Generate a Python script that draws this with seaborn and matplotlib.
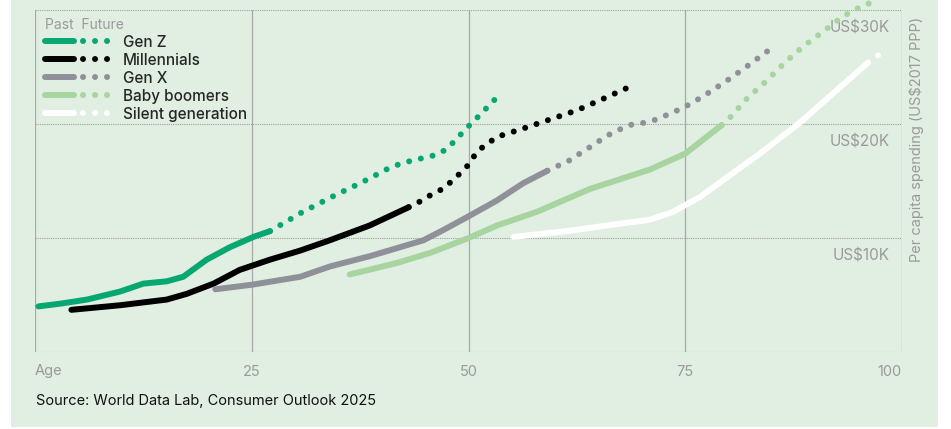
import matplotlib
matplotlib.use("Agg")
import matplotlib.pyplot as plt
import seaborn as sns
from matplotlib.lines import Line2D
from matplotlib.legend_handler import HandlerTuple
from matplotlib.patches import Rectangle
from matplotlib.transforms import offset_copy

# ---------------- data (age, per-capita spending in US$ thousands) ----------------
genz_past_age = [0.4, 3.0, 6.0, 9.8, 12.5, 15.2, 17.1, 19.8, 22.5, 25.2, 27.1]
genz_past_val = [4.0, 4.25, 4.6, 5.3, 6.0, 6.2, 6.6, 8.1, 9.2, 10.1, 10.6]
genz_fut_age = [27.1, 30.9, 35.0, 36.4, 38.0, 39.5, 41.0, 42.5, 44.1, 45.8, 47.3, 48.4,
                49.6, 50.8, 53.1]
genz_fut_val = [10.6, 12.3, 13.9, 14.4, 15.0, 15.6, 16.2, 16.6, 16.9, 17.2, 17.7, 18.5,
                19.5, 20.4, 22.2]

mill_past_age = [4.2, 9.8, 15.2, 17.5, 20.6, 23.6, 27.1, 30.6, 34.0, 38.6, 43.1]
mill_past_val = [3.7, 4.1, 4.6, 5.1, 6.0, 7.2, 8.1, 8.9, 9.8, 11.1, 12.7]
mill_fut_age = [43.1, 44.4, 45.7, 47.0, 48.1, 49.2, 50.1, 50.9, 52.0, 53.4, 56.3, 59.4,
                62.5, 65.5, 68.4]
mill_fut_val = [12.7, 13.2, 13.8, 14.3, 15.0, 15.8, 16.5, 17.5, 18.2, 18.9, 19.6, 20.4,
                21.2, 22.2, 23.2]

genx_past_age = [20.8, 25.0, 30.6, 34.0, 38.6, 44.8, 47.1, 50.0, 53.3, 56.3, 59.1]
genx_past_val = [5.5, 5.9, 6.6, 7.5, 8.4, 9.8, 10.7, 11.9, 13.3, 14.8, 15.9]
genx_fut_age = [59.1, 61.9, 63.2, 64.5, 65.8, 67.1, 68.5, 70.2, 71.7, 73.2, 74.7, 75.9,
                77.2, 79.8, 82.2, 84.5]
genx_fut_val = [15.9, 16.9, 17.6, 18.2, 18.9, 19.4, 19.9, 20.1, 20.4, 20.9, 21.4, 21.9,
                22.5, 23.8, 25.1, 26.4]

boom_past_age = [36.3, 41.7, 45.6, 50.0, 53.3, 57.9, 64.0, 70.9, 75.0, 79.2]
boom_past_val = [6.8, 7.8, 8.7, 10.0, 11.1, 12.3, 14.3, 16.0, 17.4, 19.9]
boom_fut_age = [79.2, 80.2, 82.2, 84.4, 86.5, 88.6, 90.9, 93.1, 95.5, 97.1]
boom_fut_val = [19.9, 20.6, 22.3, 23.8, 25.4, 26.8, 28.1, 29.4, 30.4, 30.8]

silent_past_age = [55.2, 61.3, 67.9, 70.9, 73.6, 76.7, 80.5, 83.6, 88.2, 96.1]
silent_past_val = [10.1, 10.6, 11.3, 11.6, 12.3, 13.6, 15.7, 17.4, 20.1, 25.4]
silent_fut_age = [96.1, 97.4]
silent_fut_val = [25.4, 26.1]

generations = ["Gen Z", "Millennials", "Gen X", "Baby boomers", "Silent generation"]
colors = ["#07a772", "#000000", "#8f9098", "#a8d4a0", "#ffffff"]

x_ticks = [0, 25, 50, 75, 100]
x_tick_labels = ["Age", "25", "50", "75", "100"]
y_ticks = [10, 20, 30]
y_tick_labels = ["US$10K", "US$20K", "US$30K"]

series = [
    (genz_past_age, genz_past_val, genz_fut_age, genz_fut_val),
    (mill_past_age, mill_past_val, mill_fut_age, mill_fut_val),
    (genx_past_age, genx_past_val, genx_fut_age, genx_fut_val),
    (boom_past_age, boom_past_val, boom_fut_age, boom_fut_val),
    (silent_past_age, silent_past_val, silent_fut_age, silent_fut_val),
]

# ---------------- style ----------------
sns.set_theme(style="white")
plt.rcParams["font.family"] = ["Inter", "DejaVu Sans"]

BG = "#e1eee2"
GRID = "#9d9d9d"
TXT_GRAY = "#9a9a9a"
LW = 4.3
DOTS = (0, (0.01, 2.0))

W, H = 951, 429
fig = plt.figure(figsize=(W / 100, H / 100), dpi=100)
fig.patch.set_facecolor("white")
bg_rect = Rectangle((11 / W, 2 / H), (938 - 11) / W, 1 - 2 / H,
                    transform=fig.transFigure, facecolor=BG,
                    edgecolor="none", zorder=-10)
fig.add_artist(bg_rect)

ax = fig.add_axes([35 / W, 1 - 352 / H, (902 - 35) / W, (352 - 10) / H])
ax.set_zorder(1)
ax.set_facecolor(BG)
ax.set_xlim(0, 100)
ax.set_ylim(0, 30)

for (pa, pv, fa, fv), c in zip(series, colors):
    sns.lineplot(x=pa, y=pv, ax=ax, color=c, linewidth=LW,
                 solid_capstyle="round", solid_joinstyle="round",
                 estimator=None, legend=False, zorder=3)
    sns.lineplot(x=fa, y=fv, ax=ax, color=c, linewidth=LW, linestyle=DOTS,
                 dash_capstyle="round", estimator=None, legend=False,
                 zorder=3, clip_on=False)

# grid / frame
for s in ax.spines.values():
    s.set_visible(False)
ax.set_xticks(x_ticks)
ax.set_yticks([0] + y_ticks)
ax.grid(axis="x", color="#a8a8a8", linewidth=0.9, linestyle="-")
ax.grid(axis="y", color=GRID, linewidth=0.8, linestyle=(0, (1, 1)))
ax.set_axisbelow(True)
ax.tick_params(axis="both", length=0)
ax.set_yticklabels([])
ax.set_xticklabels(x_tick_labels, color=TXT_GRAY, fontsize=10.5)
ax.tick_params(axis="x", pad=9)
xl = ax.get_xticklabels()
xl[0].set_ha("left")
xl[-1].set_ha("right")
ax.set_xlabel("")
ax.set_ylabel("")

# value labels inside right edge, below each gridline
ytrans = offset_copy(ax.get_yaxis_transform(), fig=fig, x=0, y=-18, units="dots")
for v, lab in zip(y_ticks, y_tick_labels):
    ax.text(0.986, v, lab, transform=ytrans, ha="right", va="center",
            color=TXT_GRAY, fontsize=11, zorder=1)

fig.text(917 / W, 1 - 139 / H, "Per capita spending (US$2017 PPP)", rotation=90,
         ha="center", va="center", color=TXT_GRAY, fontsize=10.5)

fig.text(36 / W, 1 - 401 / H, "Source: World Data Lab, Consumer Outlook 2025",
         ha="left", va="center", color="#111111", fontsize=10.5)

# legend
handles = []
for c in colors:
    solid = Line2D([], [], color=c, linewidth=LW, solid_capstyle="round")
    dots = Line2D([], [], color=c, linewidth=LW, linestyle=DOTS, dash_capstyle="round")
    handles.append((solid, dots))
leg = ax.legend(handles, generations, handler_map={tuple: HandlerTuple(ndivide=2, pad=0.6)},
                loc="upper left", bbox_to_anchor=(0.011, 0.978), frameon=False,
                borderpad=0, borderaxespad=0, handlelength=4.4, handletextpad=0.75,
                labelspacing=0.2, prop={"size": 11, "weight": "medium"})
leg.set_title("Past  Future", prop={"size": 10})
leg.get_title().set_color(TXT_GRAY)
leg._legend_box.align = "left"
leg.set_zorder(5)

fig.savefig("out.png", dpi=100, facecolor=fig.get_facecolor())
